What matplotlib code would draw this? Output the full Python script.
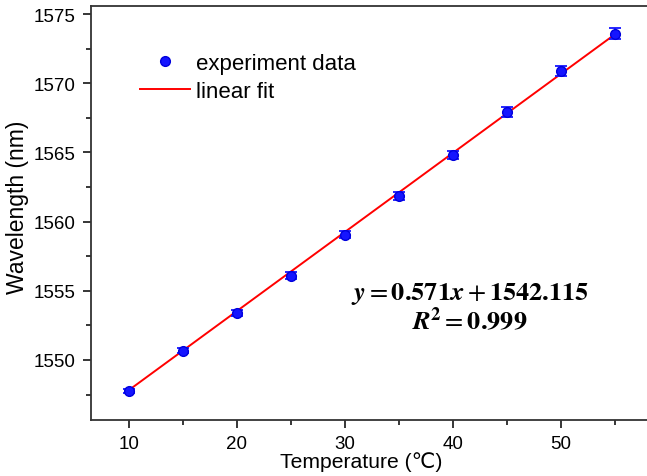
import matplotlib
matplotlib.use("Agg")
import matplotlib.pyplot as plt
import numpy as np
from matplotlib.ticker import MultipleLocator
from matplotlib.lines import Line2D

plt.rcParams['font.family'] = ['Liberation Sans', 'DejaVu Sans']
plt.rcParams['mathtext.fontset'] = 'stix'

temperature = [10, 15, 20, 25, 30, 35, 40, 45, 50, 55]
wavelength = [1547.78, 1550.65, 1553.40, 1556.10, 1559.05, 1561.85, 1564.82, 1567.92, 1570.90, 1573.58]
errors = [0.15, 0.18, 0.2, 0.22, 0.25, 0.28, 0.3, 0.33, 0.35, 0.4]
slope = 0.571
intercept = 1542.115

W, H = 647, 477
fig = plt.figure(figsize=(W/100, H/100), dpi=100)
ax_l, ax_r, ax_t, ax_b = 91, 660, 7, 421
ax = fig.add_axes([ax_l/W, (H-ax_b)/H, (ax_r-ax_l)/W, (ax_b-ax_t)/H])
aw, ah = ax_r - ax_l, ax_b - ax_t

fit_x = np.array([temperature[0], temperature[-1]])
fit_y = slope * fit_x + intercept
ax.plot(fit_x, fit_y, color='red', lw=1.4, zorder=2)
ax.errorbar(temperature, wavelength, yerr=errors, fmt='o', color='#1515ff',
            ecolor='#1515ff', markersize=7, capsize=4.5, elinewidth=1.3,
            capthick=1.3, zorder=3, markeredgecolor='#0000dd')

ax.set_xlim(6.48, 59.2)
ax.set_ylim(1545.66, 1575.58)
ax.xaxis.set_major_locator(MultipleLocator(10))
ax.xaxis.set_minor_locator(MultipleLocator(5))
ax.yaxis.set_major_locator(MultipleLocator(5))
ax.yaxis.set_minor_locator(MultipleLocator(2.5))
ax.tick_params(which='major', direction='out', length=6, width=1.1, labelsize=13.5, pad=5)
ax.tick_params(which='minor', direction='out', length=3.5, width=1.1)
ax.tick_params(top=False, right=False, which='both')
for s in ax.spines.values():
    s.set_linewidth(1.3)
    s.set_color('#333333')

ax.set_xlabel('Temperature (℃)', fontsize=15.2)
ax.xaxis.set_label_coords((361-ax_l)/aw, -(452-ax_b)/ah)
ax.set_ylabel('Wavelength (nm)', fontsize=16.5)
ax.yaxis.set_label_coords(-(ax_l-29)/aw, (ax_b-207)/ah)

h_data = Line2D([], [], ls='none', marker='o', markersize=7, color='#1515ff',
                markeredgecolor='#0000dd')
h_fit = Line2D([], [], color='red', lw=1.4)
ax.legend([h_data, h_fit], ['experiment data', 'linear fit'], loc='upper left',
          bbox_to_anchor=(0.051, 0.935), frameon=False, fontsize=16,
          handlelength=2.25, handletextpad=0.27, labelspacing=0.3)

fig.text(470/W, 1-294/H, r'$\mathbfit{y} = \mathbf{0.571}\mathbfit{x} + \mathbf{1542.115}$',
         fontsize=19, ha='center', va='center')
fig.text(470/W, 1-321/H, r'$\mathbfit{R}^{\mathbf{2}} = \mathbf{0.999}$',
         fontsize=19, ha='center', va='center')

fig.savefig('out.png', dpi=100)
